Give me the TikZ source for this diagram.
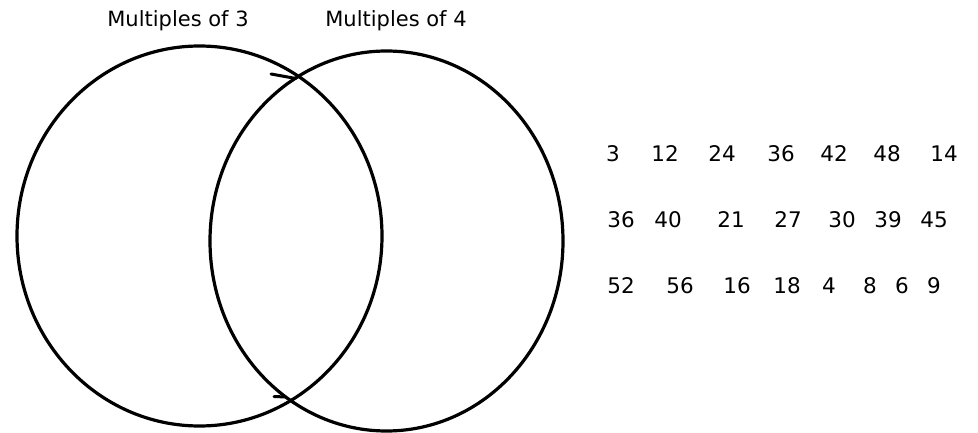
\documentclass[tikz,border=0pt]{standalone}
\usepackage{fontspec}
\setmainfont{DejaVu Sans}
\usetikzlibrary{shapes.geometric}
\tikzset{
  setring/.style={draw=black, line width=3.2pt, ellipse, inner sep=0pt},
  settitle/.style={font=\fontsize{21}{24}\selectfont, inner sep=0pt},
  numtext/.style={font=\fontsize{21.5}{24}\selectfont, inner sep=0pt},
  tickline/.style={draw=black, line width=3pt, line cap=round}
}
\begin{document}
\begin{tikzpicture}[x=1pt,y=-1pt]
\useasboundingbox (0,0) rectangle (978,433);
\node[setring, minimum width=365pt, minimum height=380pt] (A) at (199.5,236) {};
\node[setring, minimum width=353pt, minimum height=380pt] (B) at (386.5,241) {};
\node[settitle] (tA) at (178,21) {Multiples of 3};
\node[settitle] (tB) at (396,21) {Multiples of 4};
\coordinate (t1s) at (271,74);
\coordinate (t1e) at (296,78.5);
\coordinate (t2s) at (274,396.5);
\coordinate (t2e) at (286,397);
\draw[tickline] (t1s) -- (t1e);
\draw[tickline] (t2s) -- (t2e);
% row 1
\node[numtext] (n11) at (613,154) {3};
\node[numtext] (n12) at (665,154) {12};
\node[numtext] (n13) at (722,154) {24};
\node[numtext] (n14) at (781,154) {36};
\node[numtext] (n15) at (834,154) {42};
\node[numtext] (n16) at (887,154) {48};
\node[numtext] (n17) at (944,154) {14};
% row 2
\node[numtext] (n21) at (621,220) {36};
\node[numtext] (n22) at (668,220) {40};
\node[numtext] (n23) at (731,220) {21};
\node[numtext] (n24) at (788,220) {27};
\node[numtext] (n25) at (842,220) {30};
\node[numtext] (n26) at (888,220) {39};
\node[numtext] (n27) at (934,220) {45};
% row 3
\node[numtext] (n31) at (621,286) {52};
\node[numtext] (n32) at (680,286) {56};
\node[numtext] (n33) at (737,286) {16};
\node[numtext] (n34) at (787,286) {18};
\node[numtext] (n35) at (829,286) {4};
\node[numtext] (n36) at (870,286) {8};
\node[numtext] (n37) at (902,286) {6};
\node[numtext] (n38) at (934,286) {9};
\end{tikzpicture}
\end{document}
